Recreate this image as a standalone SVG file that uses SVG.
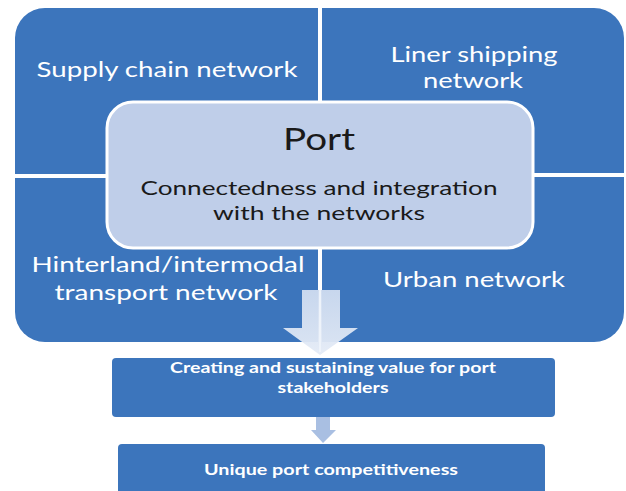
<svg xmlns="http://www.w3.org/2000/svg" width="626" height="491" viewBox="0 0 626 491">
<defs>
<style>
.q{fill:#3c75bc}
.w{fill:#ffffff;font-family:Lato,"Open Sans",sans-serif;text-anchor:middle}
.big{font-size:22px}
.b{font-family:Lato,"Open Sans",sans-serif;text-anchor:middle;fill:#1a1a1a}
.sm{font-size:15.5px;font-weight:bold}
</style>
<linearGradient id="ag" x1="0" y1="0" x2="0" y2="1">
<stop offset="0" stop-color="#cfdcf0"/>
<stop offset="1" stop-color="#e4ebf6"/>
</linearGradient>
</defs>
<rect width="626" height="491" fill="#ffffff"/>
<g id="supply-chain">
<path class="q" d="M15,38 A30,30 0 0 1 45,8 L318,8 L318,174 L15,174 Z"/>
<text class="w big" x="167" y="77" textLength="261" lengthAdjust="spacingAndGlyphs">Supply chain network</text>
</g>
<g id="liner-shipping">
<path class="q" d="M322,8 L594,8 A30,30 0 0 1 624,38 L624,173 L322,173 Z"/>
<text class="w big" x="474" y="62" textLength="167" lengthAdjust="spacingAndGlyphs">Liner shipping</text>
<text class="w big" x="473" y="88" textLength="100" lengthAdjust="spacingAndGlyphs">network</text>
</g>
<g id="hinterland">
<path class="q" d="M15,178 L318,178 L318,342 L45,342 A30,30 0 0 1 15,312 Z"/>
<text class="w big" x="168" y="272" textLength="273" lengthAdjust="spacingAndGlyphs">Hinterland/intermodal</text>
<text class="w big" x="166" y="300" textLength="223" lengthAdjust="spacingAndGlyphs">transport network</text>
</g>
<g id="urban">
<path class="q" d="M322,177 L624,177 L624,312 A30,30 0 0 1 594,342 L322,342 Z"/>
<text class="w big" x="474" y="287" textLength="182" lengthAdjust="spacingAndGlyphs">Urban network</text>
</g>
<g id="port">
<rect x="107" y="102" width="426" height="146" rx="26" fill="#bfcee9" stroke="#ffffff" stroke-width="3"/>
<text class="b" x="319" y="150" font-size="30" textLength="72" lengthAdjust="spacingAndGlyphs">Port</text>
<text class="b" x="319" y="195" font-size="20" textLength="357" lengthAdjust="spacingAndGlyphs">Connectedness and integration</text>
<text class="b" x="319" y="220" font-size="20" textLength="212" lengthAdjust="spacingAndGlyphs">with the networks</text>
</g>
<g id="connectors">
<path d="M302,290 L340,290 L340,328 L358,328 L320,355 L283,328 L302,328 Z" fill="url(#ag)" opacity="0.95"/>
<line x1="320" y1="290" x2="320" y2="352" stroke="#eef3fa" stroke-width="2"/>
<path d="M316,417 L330,417 L330,430 L336,430 L323,443 L311,430 L316,430 Z" fill="#a9bfe2"/>
</g>
<g id="value">
<rect x="112" y="358" width="443" height="59" rx="4" class="q"/>
<text class="w sm" x="333" y="373" textLength="326" lengthAdjust="spacingAndGlyphs">Creating and sustaining value for port</text>
<text class="w sm" x="333" y="393" textLength="111" lengthAdjust="spacingAndGlyphs">stakeholders</text>
</g>
<g id="competitiveness">
<rect x="118" y="444" width="427" height="60" rx="4" class="q"/>
<text class="w sm" x="331" y="475" textLength="254" lengthAdjust="spacingAndGlyphs">Unique port competitiveness</text>
</g>
</svg>
